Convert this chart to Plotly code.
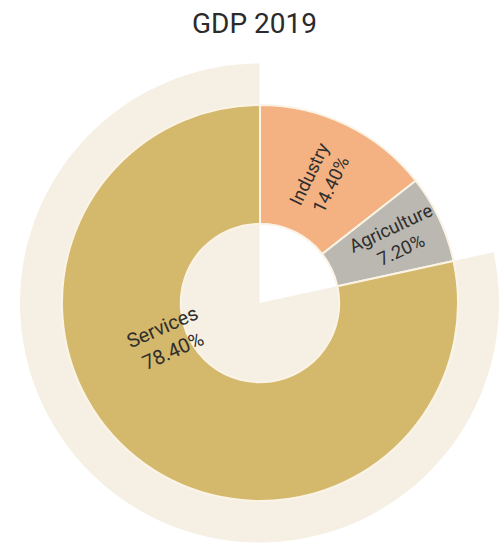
import plotly.graph_objects as go

# GDP composition, 2019 (share of total, %)
sectors = ["Industry", "Agriculture", "Services"]
shares = [14.4, 7.2, 78.4]
sector_colors = ["#f4b283", "#bbb8b1", "#d4b86b"]
backdrop_color = "#f6f0e4"
title_text = "GDP 2019"

W, H = 499, 546
FONT = "Roboto, 'Noto Sans', sans-serif"

services_share = shares[sectors.index("Services")]
other_share = sum(shares) - services_share

fig = go.Figure()

# Pale backdrop wedge behind the Services sector, slightly larger radius
fig.add_trace(go.Pie(
    values=[other_share, services_share],
    labels=["rest", "Services backdrop"],
    marker=dict(colors=["rgba(0,0,0,0)", backdrop_color], line=dict(width=0)),
    sort=False, direction="clockwise", rotation=0,
    textinfo="none", hoverinfo="skip", showlegend=False,
    domain=dict(x=[20 / W, 1.0], y=[3 / H, 483 / H]),
))

# Main donut
fig.add_trace(go.Pie(
    labels=sectors,
    values=shares,
    hole=0.4,
    marker=dict(colors=sector_colors, line=dict(color="#fbf4e6", width=2)),
    sort=False, direction="clockwise", rotation=0,
    texttemplate="%{label}<br>%{percent:.2%}",
    textposition=["inside", "inside", "none"],
    insidetextorientation="radial",
    textfont=dict(family=FONT, size=19, color="#2e2e2e"),
    showlegend=False,
    domain=dict(x=[62 / W, 458 / W], y=[45 / H, 441 / H]),
))

# Services label placed along the left side of its sector
svc_total = sum(shares)
fig.add_annotation(
    text=f"Services<br>{services_share / svc_total * 100:.2f}%",
    x=120 / W, y=1 - 339 / H, xref="paper", yref="paper",
    showarrow=False, textangle=-24,
    font=dict(family=FONT, size=20, color="#2e2e2e"),
)

fig.update_layout(
    width=W, height=H,
    margin=dict(l=0, r=0, t=0, b=0),
    paper_bgcolor="white", plot_bgcolor="white",
    uniformtext=dict(minsize=18, mode="show"),
    title=dict(text=title_text, x=0.51, xanchor="center", y=1 - 23 / H,
               yanchor="middle", yref="container",
               font=dict(family=FONT, size=28, color="#2b2b2b")),
    showlegend=False,
)

fig.write_html("out.html")
